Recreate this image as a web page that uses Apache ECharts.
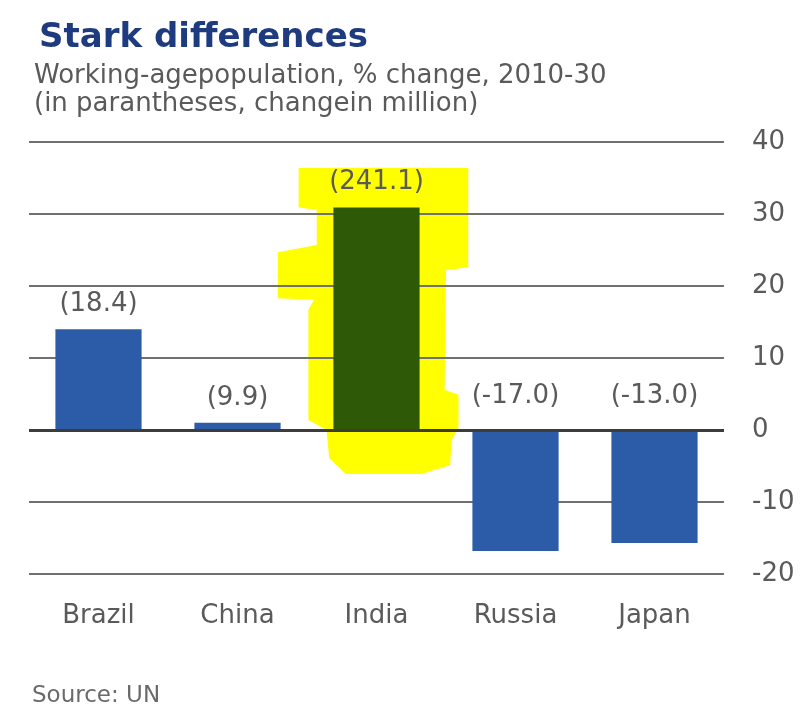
<!DOCTYPE html>
<html>
<head>
<meta charset="utf-8">
<script src="https://cdn.jsdelivr.net/npm/echarts@6/dist/echarts.min.js"></script>
<style>
html,body{margin:0;padding:0;background:#fff;}
#chart{width:801px;height:704px;}
</style>
</head>
<body>
<div id="chart"></div>
<script>
// Data
var categories = ['Brazil', 'China', 'India', 'Russia', 'Japan'];
var pctChange = [14.0, 1.0, 30.9, -16.8, -15.7];
var millionLabels = ['(18.4)', '(9.9)', '(241.1)', '(-17.0)', '(-13.0)'];
var yTicks = { min: -20, max: 40, interval: 10 };
var highlightCategory = 'India';
// Highlighter outline around India: [offset in category-band widths, value]
var highlightShape = [
  [-0.56, 36.4], [0.66, 36.4], [0.66, 22.6], [0.50, 22.2], [0.49, 5.6],
  [0.59, 4.9], [0.59, 0.3], [0.54, -1.4], [0.53, -4.9], [0.32, -6.1],
  [-0.22, -6.1], [-0.34, -3.9], [-0.36, 0], [-0.49, 1.4], [-0.49, 16.7],
  [-0.45, 18.1], [-0.71, 18.3], [-0.71, 24.7], [-0.43, 25.7], [-0.43, 30.6],
  [-0.56, 30.9]
];

var BLUE = '#2c5ba8';
var GREEN = '#2e5a08';
var TXT = '#5a5a5a';
var FONT = 'DejaVu Sans';

var barData = pctChange.map(function (v, i) {
  var item = {
    value: v,
    itemStyle: { color: categories[i] === highlightCategory ? GREEN : BLUE }
  };
  if (v < 0) {
    item.label = { position: 'top', distance: 21 };
  }
  return item;
});

var chart = echarts.init(document.getElementById('chart'), null, { renderer: 'canvas' });
chart.setOption({
  backgroundColor: '#ffffff',
  animation: false,
  title: [
    { text: 'Stark differences', left: 34, top: 16,
      textStyle: { fontFamily: FONT, fontSize: 34, fontWeight: 'bold', color: '#1f3b80' } },
    { text: 'Working-agepopulation, % change, 2010-30', left: 29, top: 58,
      textStyle: { fontFamily: FONT, fontSize: 26, fontWeight: 'normal', color: TXT } },
    { text: '(in parantheses, changein million)', left: 29, top: 86,
      textStyle: { fontFamily: FONT, fontSize: 26, fontWeight: 'normal', color: TXT } },
    { text: 'Source: UN', left: 27, top: 680,
      textStyle: { fontFamily: FONT, fontSize: 23, fontWeight: 'normal', color: '#6a6a6a' } }
  ],
  grid: { left: 29, right: 77, top: 142, bottom: 130, containLabel: false },
  xAxis: {
    type: 'category',
    data: categories,
    axisLine: { show: false, onZero: false },
    axisTick: { show: false },
    axisLabel: { margin: 29, fontFamily: FONT, fontSize: 26, color: TXT }
  },
  yAxis: {
    type: 'value',
    position: 'right',
    min: yTicks.min, max: yTicks.max, interval: yTicks.interval,
    axisLine: { show: false },
    axisTick: { show: false },
    axisLabel: { margin: 28, fontFamily: FONT, fontSize: 26, color: TXT, align: 'left' },
    splitLine: { show: true, lineStyle: { color: '#707070', width: 2 } }
  },
  series: [
    {
      type: 'custom',
      z: -1,
      silent: true,
      data: [[categories.indexOf(highlightCategory)]],
      renderItem: function (params, api) {
        var idx = api.value(0);
        var cx = api.coord([idx, 0])[0];
        var bw = api.size([1, 0])[0];
        var pts = highlightShape.map(function (p) {
          return [cx + p[0] * bw, api.coord([idx, p[1]])[1]];
        });
        return { type: 'polygon', shape: { points: pts }, style: { fill: '#ffff00' } };
      }
    },
    {
      type: 'bar',
      data: barData,
      barWidth: '62%',
      label: {
        show: true,
        position: 'top',
        distance: 12,
        fontFamily: FONT,
        fontSize: 26,
        color: TXT,
        formatter: function (p) { return millionLabels[p.dataIndex]; }
      },
      markLine: {
        silent: true,
        symbol: 'none',
        label: { show: false },
        lineStyle: { color: '#3c3c3c', width: 3, type: 'solid' },
        data: [{ yAxis: 0 }]
      }
    }
  ]
});
</script>
</body>
</html>
